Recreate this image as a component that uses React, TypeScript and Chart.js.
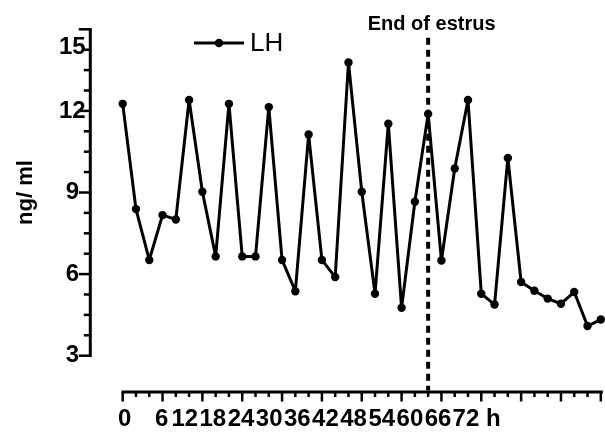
import React, { useEffect, useRef } from 'react';
import { Chart, registerables } from 'chart.js';

Chart.register(...registerables);

// ---- data ----
const hours = [0, 2, 4, 6, 8, 10, 12, 14, 16, 18, 20, 22, 24, 26, 28, 30, 32, 34, 36, 38, 40, 42, 44, 46, 48, 50, 52, 54, 56, 58, 60, 62, 64, 66, 68, 70, 72];
const lhValues = [12.26, 8.39, 6.52, 8.17, 8.01, 12.4, 9.03, 6.65, 12.26, 6.65, 6.65, 12.14, 6.52, 5.37, 11.13, 6.52, 5.89, 13.78, 9.03, 5.28, 11.53, 4.76, 8.66, 11.89, 6.5, 9.88, 12.4, 5.28, 4.88, 10.27, 5.71, 5.39, 5.1, 4.91, 5.34, 4.09, 4.33];
const xTickLabels = ['0', '6', '12', '18', '24', '30', '36', '42', '48', '54', '60', '66', '72 h'];
const yTickValues = [3, 6, 9, 12, 15];
const estrusEndHour = 46;
const seriesLabel = 'LH';
const yTitle = 'ng/ ml';
const annotationText = 'End of estrus';

// ---- axis layout (not data) ----
const X_MIN = 0;
const X_MAX = 72;
const X_MAJOR_STEP = 6;
const X_MINOR_STEP = 2;
const Y_MINOR_STEP = 0.75;
// where each x label text sits (in hours) as printed in the original figure
const xLabelAnchor = [0.3, 5.86, 9.35, 13.58, 17.82, 22.06, 26.3, 30.53, 34.77, 39.01, 43.25, 47.48, 53.3];
const TOP_LABEL_NUDGE = 0.65;

const FONT = '"Liberation Sans", Arial, sans-serif';

function line(ctx: CanvasRenderingContext2D, x1: number, y1: number, x2: number, y2: number) {
  ctx.beginPath();
  ctx.moveTo(x1, y1);
  ctx.lineTo(x2, y2);
  ctx.stroke();
}

const axesPlugin = {
  id: 'offsetAxes',
  beforeDatasetsDraw(chart: any) {
    const { ctx, scales } = chart;
    const x = scales.x;
    const y = scales.y;
    const x0 = x.getPixelForValue(X_MIN);
    const x1 = x.getPixelForValue(X_MAX);
    const yTop = y.getPixelForValue(yTickValues[yTickValues.length - 1]);
    const yBot = y.getPixelForValue(yTickValues[0]);
    const yAxisX = x0 - 32.4;
    const xAxisY = yBot + 36.3;
    ctx.save();
    ctx.strokeStyle = '#000';
    ctx.lineCap = 'butt';
    // y axis
    ctx.lineWidth = 3;
    line(ctx, yAxisX, yTop - 1.2, yAxisX, yBot + 1.2);
    ctx.lineWidth = 2.5;
    const yMin = yTickValues[0];
    const yMax = yTickValues[yTickValues.length - 1];
    const nY = Math.round((yMax - yMin) / Y_MINOR_STEP);
    for (let i = 0; i <= nY; i++) {
      const v = yMin + i * Y_MINOR_STEP;
      const py = y.getPixelForValue(v);
      const major = yTickValues.some((t) => Math.abs(t - v) < 1e-6);
      line(ctx, yAxisX - (major ? 11.5 : 6.5), py, yAxisX, py);
    }
    // x axis
    ctx.lineWidth = 3;
    line(ctx, x0 - 1.2, xAxisY, x1 + 2, xAxisY);
    ctx.lineWidth = 2.5;
    const nX = Math.round((X_MAX - X_MIN) / X_MINOR_STEP);
    for (let i = 0; i <= nX; i++) {
      const v = X_MIN + i * X_MINOR_STEP;
      const px = x.getPixelForValue(v);
      const major = Math.abs(v / X_MAJOR_STEP - Math.round(v / X_MAJOR_STEP)) < 1e-6;
      line(ctx, px, xAxisY, px, xAxisY + (major ? 9.5 : 5));
    }
    // dashed end-of-estrus line
    const dx = x.getPixelForValue(estrusEndHour);
    ctx.lineWidth = 4;
    ctx.setLineDash([7, 5]);
    line(ctx, dx, yTop + 8.5, dx, xAxisY - 1.5);
    ctx.setLineDash([]);
    ctx.restore();
  },
  afterDraw(chart: any) {
    const { ctx, scales } = chart;
    const x = scales.x;
    const x0 = x.getPixelForValue(X_MIN);
    const dx = x.getPixelForValue(estrusEndHour);
    ctx.save();
    ctx.fillStyle = '#000';
    // annotation
    ctx.font = `bold 20px ${FONT}`;
    ctx.textAlign = 'center';
    ctx.textBaseline = 'alphabetic';
    ctx.fillText(annotationText, dx + 3.5, 30);
    // legend
    const lx = x0 + 71.3;
    const ly = 43;
    ctx.strokeStyle = '#000';
    ctx.lineWidth = 3;
    line(ctx, lx, ly, lx + 50, ly);
    ctx.beginPath();
    ctx.arc(lx + 25, ly, 4.2, 0, Math.PI * 2);
    ctx.fill();
    ctx.font = `26px ${FONT}`;
    ctx.textAlign = 'left';
    ctx.textBaseline = 'middle';
    ctx.fillText(seriesLabel, lx + 56, ly + 1);
    ctx.restore();
  },
};

export default function App() {
  const ref = useRef<HTMLCanvasElement | null>(null);
  useEffect(() => {
    const canvas = ref.current;
    if (!canvas) return;
    const chart = new Chart(canvas, {
      type: 'line',
      data: {
        datasets: [
          {
            label: seriesLabel,
            data: hours.map((h, i) => ({ x: h, y: lhValues[i] })),
            borderColor: '#000',
            backgroundColor: '#000',
            borderWidth: 3,
            borderJoinStyle: 'round',
            borderCapStyle: 'round',
            pointRadius: 4.2,
            pointBorderWidth: 0,
            pointBackgroundColor: '#000',
            tension: 0,
            clip: false as any,
          },
        ],
      },
      options: {
        animation: false,
        responsive: false,
        devicePixelRatio: 1,
        layout: { padding: { left: 13.0, right: 1.7, top: 29.3, bottom: 0.5 } },
        plugins: { legend: { display: false }, tooltip: { enabled: false } },
        scales: {
          x: {
            type: 'linear',
            min: X_MIN,
            max: X_MAX,
            position: 'bottom',
            border: { display: false },
            grid: { display: true, drawOnChartArea: false, drawTicks: true, tickLength: 47, tickColor: 'rgba(0,0,0,0)' },
            afterBuildTicks: (axis: any) => {
              axis.ticks = xLabelAnchor.map((v) => ({ value: v }));
            },
            ticks: {
              autoSkip: false,
              maxRotation: 0,
              minRotation: 0,
              padding: 2,
              color: '#000',
              font: { family: FONT, size: 24, weight: 'bold' },
              callback: (_v: any, i: number) => xTickLabels[i],
            },
          },
          y: {
            type: 'linear',
            min: yTickValues[0],
            max: yTickValues[yTickValues.length - 1],
            position: 'left',
            border: { display: false },
            grid: { display: true, drawOnChartArea: false, drawTicks: true, tickLength: 35, tickColor: 'rgba(0,0,0,0)' },
            afterBuildTicks: (axis: any) => {
              axis.ticks = yTickValues.map((v, i) => ({
                value: i === yTickValues.length - 1 ? v - TOP_LABEL_NUDGE : v,
              }));
            },
            ticks: {
              crossAlign: 'center',
              padding: 2,
              color: '#000',
              font: { family: FONT, size: 24, weight: 'bold' },
              callback: (_v: any, i: number) => String(yTickValues[i]),
            },
            title: {
              display: true,
              text: yTitle,
              color: '#000',
              font: { family: FONT, size: 22, weight: 'bold' },
              padding: { top: 0, bottom: 17.6 },
            },
          },
        },
      },
      plugins: [axesPlugin],
    } as any);
    return () => chart.destroy();
  }, []);
  return (
    <div style={{ position: 'fixed', left: 0, top: 0, width: 605, height: 436, background: '#fff' }}>
      <canvas ref={ref} width={605} height={436} style={{ display: 'block', width: 605, height: 436 }} />
    </div>
  );
}
